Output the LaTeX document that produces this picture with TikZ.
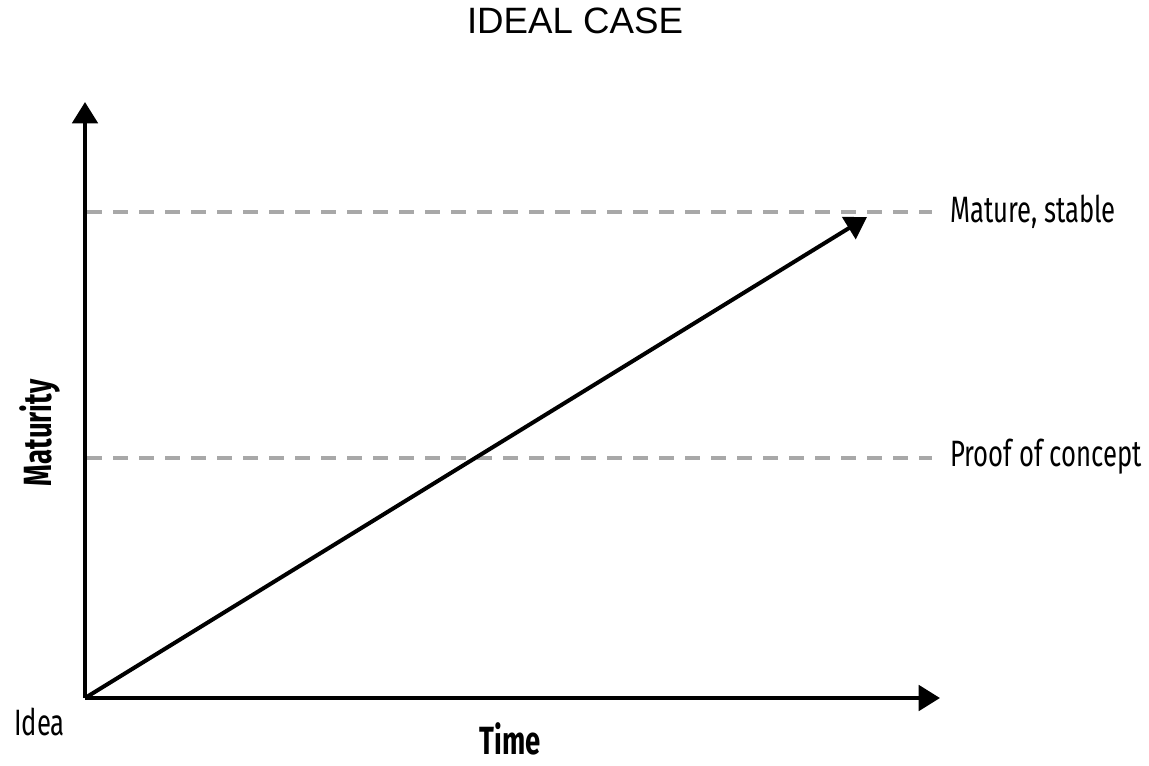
\documentclass[tikz,border=0pt]{standalone}
\usepackage{fontspec}
\usetikzlibrary{arrows.meta}
\setmainfont{Liberation Sans}
\newfontfamily\cond[FakeStretch=0.70]{Fira Sans}
\begin{document}
\begin{tikzpicture}[x=0.75pt,y=-0.75pt,
  axis/.style={line width=3pt,-{Triangle[length=16pt,width=19pt]}},
  guide/.style={line width=3pt,draw=black!34,dash pattern=on 11.25pt off 8.25pt},
  lbl/.style={font=\cond\fontsize{27.5}{30}\selectfont,inner sep=0pt},
  blbl/.style={font=\cond\bfseries\fontsize{29.5}{32}\selectfont,inner sep=0pt},
  ttl/.style={font=\fontsize{27.5}{30}\selectfont,inner sep=0pt}]
\useasboundingbox (0,0) rectangle (1149,765);
\coordinate (O) at (85,698);
\coordinate (ytop) at (85,102);
\coordinate (xend) at (940,698);
\coordinate (mL) at (87,212);
\coordinate (mR) at (932,212);
\coordinate (pL) at (87,458);
\coordinate (pR) at (932,458);
\coordinate (dend) at (867,217);
\draw[guide] (mL) -- (mR);
\draw[guide] (pL) -- (pR);
\draw[axis] (O) -- (ytop);
\draw[axis] (O) -- (xend);
\draw[axis] (O) -- (dend);
\node[ttl,anchor=base] (title) at (575,33) {IDEAL CASE};
\node[lbl,anchor=base west] (mat) at (950,222) {Mature, stable};
\node[lbl,anchor=base west] (poc) at (950,466) {Proof of concept};
\node[lbl,anchor=base west] (idea) at (14,735) {Idea};
\node[blbl,anchor=base] (time) at (510,754) {Time};
\node[blbl,rotate=90,anchor=base] (maty) at (51,433) {Maturity};
\end{tikzpicture}
\end{document}
